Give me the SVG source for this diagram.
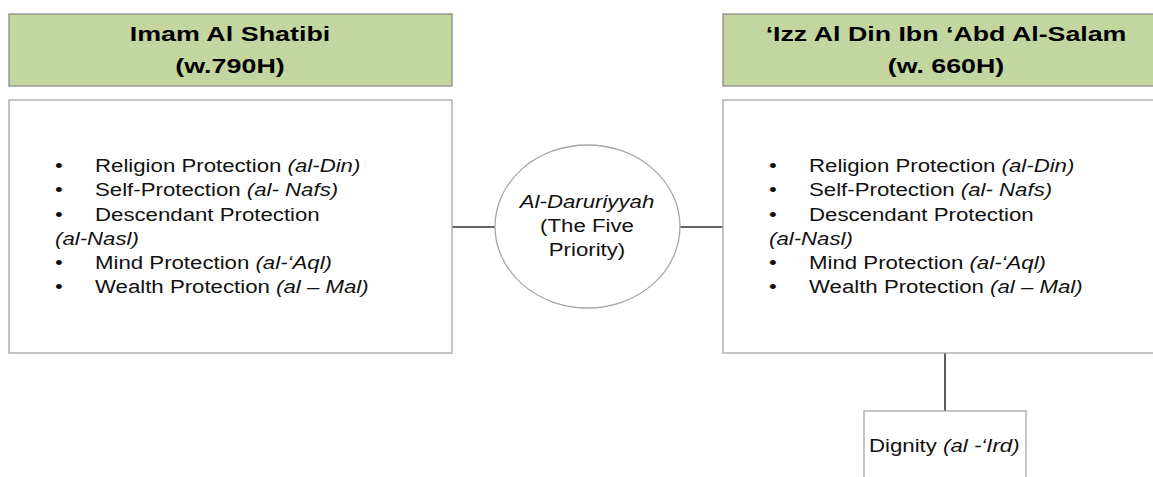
<svg xmlns="http://www.w3.org/2000/svg" width="1153" height="477" viewBox="0 0 1153 477">
<style>
.hdr{fill:#c3d69f;stroke:#8a8a8a;stroke-width:1.3}
.box{fill:#fff;stroke:#a6a6a6;stroke-width:1.3}
.ht{font-family:"Liberation Sans",Arial,sans-serif;font-size:21px;font-weight:bold;fill:#000;text-anchor:middle}
.t{font-family:"Liberation Sans",Arial,sans-serif;font-size:19px;fill:#111}
.i{font-style:italic}
.c{text-anchor:middle}
.conn{stroke:#333;stroke-width:1.6;fill:none}
</style>
<rect width="1153" height="477" fill="#fff"/>
<g id="connectors">
<line class="conn" x1="452" y1="227" x2="495" y2="227"/>
<line class="conn" x1="680" y1="227" x2="723" y2="227"/>
<line class="conn" x1="945" y1="353" x2="945" y2="411"/>
</g>
<g id="hdr-left">
<rect class="hdr" x="9" y="14" width="443" height="72"/>
<g transform="translate(230 0) scale(1.28 1)">
<text class="ht" x="0" y="41">Imam Al Shatibi</text>
<text class="ht" x="0" y="73">(w.790H)</text>
</g>
</g>
<g id="hdr-right">
<rect class="hdr" x="723" y="14" width="440" height="72"/>
<g transform="translate(946 0) scale(1.275 1)">
<text class="ht" x="0" y="41">‘Izz Al Din Ibn ‘Abd Al-Salam</text>
<text class="ht" x="0" y="73">(w. 660H)</text>
</g>
</g>
<g id="box-left">
<rect class="box" x="9" y="100" width="443" height="253"/>
<g class="t" transform="translate(55 0) scale(1.17 1)">
<text x="0" y="172">•</text><text x="34.2" y="172">Religion Protection <tspan class="i">(al-Din)</tspan></text>
<text x="0" y="196">•</text><text x="34.2" y="196">Self-Protection <tspan class="i">(al- Nafs)</tspan></text>
<text x="0" y="221">•</text><text x="34.2" y="221">Descendant Protection</text>
<text x="0" y="245" class="i">(al-Nasl)</text>
<text x="0" y="269">•</text><text x="34.2" y="269">Mind Protection <tspan class="i">(al-‘Aql)</tspan></text>
<text x="0" y="293">•</text><text x="34.2" y="293">Wealth Protection <tspan class="i">(al – Mal)</tspan></text>
</g>
</g>
<g id="box-right">
<rect class="box" x="723" y="100" width="440" height="253"/>
<g class="t" transform="translate(769 0) scale(1.17 1)">
<text x="0" y="172">•</text><text x="34.2" y="172">Religion Protection <tspan class="i">(al-Din)</tspan></text>
<text x="0" y="196">•</text><text x="34.2" y="196">Self-Protection <tspan class="i">(al- Nafs)</tspan></text>
<text x="0" y="221">•</text><text x="34.2" y="221">Descendant Protection</text>
<text x="0" y="245" class="i">(al-Nasl)</text>
<text x="0" y="269">•</text><text x="34.2" y="269">Mind Protection <tspan class="i">(al-‘Aql)</tspan></text>
<text x="0" y="293">•</text><text x="34.2" y="293">Wealth Protection <tspan class="i">(al – Mal)</tspan></text>
</g>
</g>
<g id="center">
<ellipse cx="587.5" cy="226.5" rx="92.5" ry="81.5" fill="#fff" stroke="#a6a6a6" stroke-width="1.3"/>
<g transform="translate(587 0) scale(1.17 1)">
<text class="t c i" x="0" y="208">Al-Daruriyyah</text>
<text class="t c" x="0" y="232">(The Five</text>
<text class="t c" x="0" y="256">Priority)</text>
</g>
</g>
<g id="dignity">
<rect class="box" x="864" y="411" width="162" height="75"/>
<g transform="translate(869 0) scale(1.17 1)">
<text class="t" x="0" y="452">Dignity <tspan class="i">(al -‘Ird)</tspan></text>
</g>
</g>
</svg>
